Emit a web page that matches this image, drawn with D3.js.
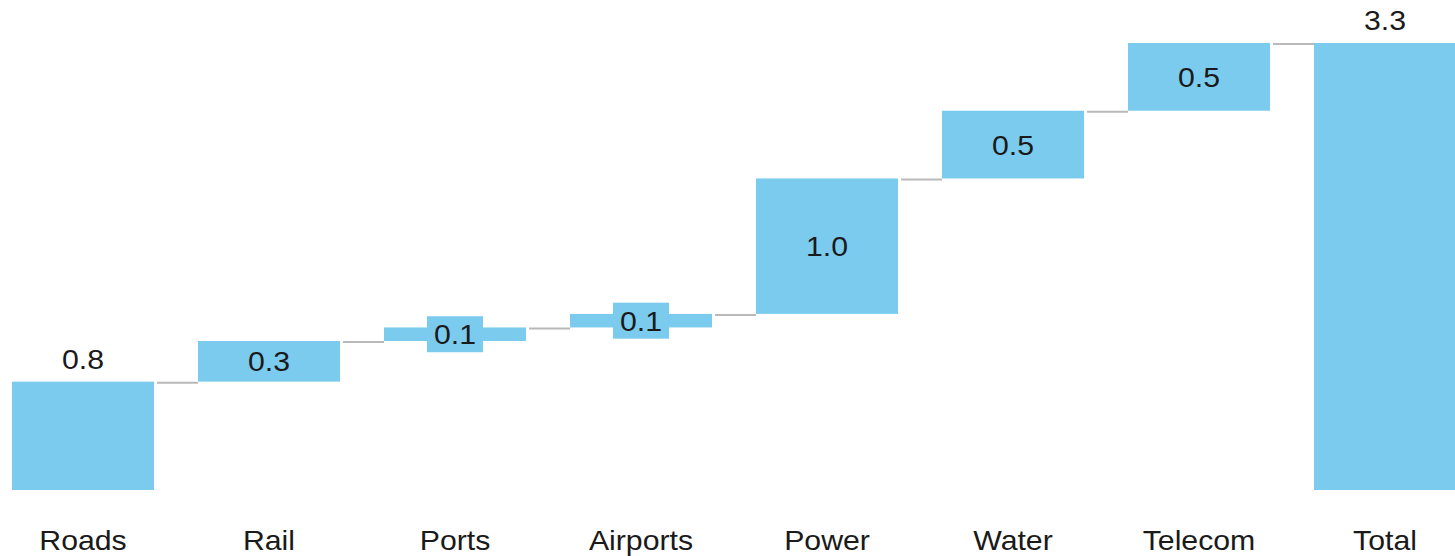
<!DOCTYPE html>
<html>
<head>
<meta charset="utf-8">
<script src="https://cdn.jsdelivr.net/npm/d3@7"></script>
<style>
  html, body { margin: 0; padding: 0; background: #fff; }
  svg { display: block; }
  text { font-family: "Liberation Sans", Arial, sans-serif; }
</style>
</head>
<body>
<svg id="chart" width="1455" height="556"></svg>
<script>
// Infrastructure investment by sector, with the overall total
const categories = ["Roads", "Rail", "Ports", "Airports", "Power", "Water", "Telecom", "Total"];
const increments = [0.8, 0.3, 0.1, 0.1, 1.0, 0.5, 0.5];
const totalValue = 3.3;
const valueLabels = ["0.8", "0.3", "0.1", "0.1", "1.0", "0.5", "0.5", "3.3"];

const W = 1455, H = 556;
const barColor = "#7bcbee";
const textColor = "#1a1a1a";
const connectorColor = "#b9b9b9";
const fontSize = 28;
const stretch = 1.08; // slightly widened glyphs

const svg = d3.select("#chart");

// Build the floating segments of the waterfall
let running = 0;
const steps = increments.map((v, i) => {
  const s = { cat: categories[i], start: running, end: running + v, label: valueLabels[i], total: false };
  running += v;
  return s;
});
steps.push({ cat: categories[7], start: 0, end: totalValue, label: valueLabels[7], total: true });

const x = d3.scaleBand()
  .domain(categories)
  .range([12, 1456])
  .paddingInner(0.2366)
  .paddingOuter(0);

const y = d3.scaleLinear()
  .domain([0, totalValue])
  .range([490, 43]);

const bw = x.bandwidth();

// Connectors between consecutive bars
const links = steps.slice(0, -1).map((s, i) => ({ from: s, to: steps[i + 1], level: s.end }));
svg.append("g")
  .selectAll("line")
  .data(links)
  .join("line")
  .attr("x1", d => x(d.from.cat) + bw + 3)
  .attr("x2", d => x(d.to.cat))
  .attr("y1", d => y(d.level) + 1)
  .attr("y2", d => y(d.level) + 1)
  .attr("stroke", connectorColor)
  .attr("stroke-width", 2);

// Bars
svg.append("g")
  .selectAll("rect")
  .data(steps)
  .join("rect")
  .attr("x", d => x(d.cat))
  .attr("width", bw)
  .attr("y", d => y(Math.max(d.start, d.end)))
  .attr("height", d => Math.abs(y(d.start) - y(d.end)))
  .attr("fill", barColor);

// Value labels: above the first and total bars, centred inside the others
const labelH = 36, labelPad = 7;
const lg = svg.append("g");
steps.forEach((d, i) => {
  const cx = x(d.cat) + bw / 2;
  const top = y(d.end);
  const h = y(d.start) - y(d.end);
  const outside = d.total || i === 0;
  const ty = outside ? top - 13 : top + h / 2;
  const t = lg.append("text")
    .attr("transform", `translate(${cx},${ty}) scale(${stretch},1)`)
    .attr("dy", outside ? 0 : "0.36em")
    .attr("text-anchor", "middle")
    .attr("font-size", fontSize)
    .attr("fill", textColor)
    .text(d.label);
  if (!outside && h < labelH) {
    const tw = t.node().getComputedTextLength() * stretch;
    lg.insert("rect", () => t.node())
      .attr("x", cx - tw / 2 - labelPad)
      .attr("y", ty - labelH / 2)
      .attr("width", tw + labelPad * 2)
      .attr("height", labelH)
      .attr("fill", barColor);
  }
});

// Category axis (no line, no ticks)
const xAxis = d3.axisBottom(x).tickSize(0).tickPadding(0);
const ax = svg.append("g")
  .attr("transform", "translate(0,550)")
  .call(xAxis);
ax.select(".domain").remove();
ax.selectAll(".tick")
  .attr("transform", d => `translate(${x(d) + bw / 2},0) scale(${stretch},1)`);
ax.selectAll("text")
  .attr("dy", 0)
  .attr("font-size", fontSize)
  .attr("font-family", "Liberation Sans, Arial, sans-serif")
  .attr("fill", textColor);
</script>
</body>
</html>
